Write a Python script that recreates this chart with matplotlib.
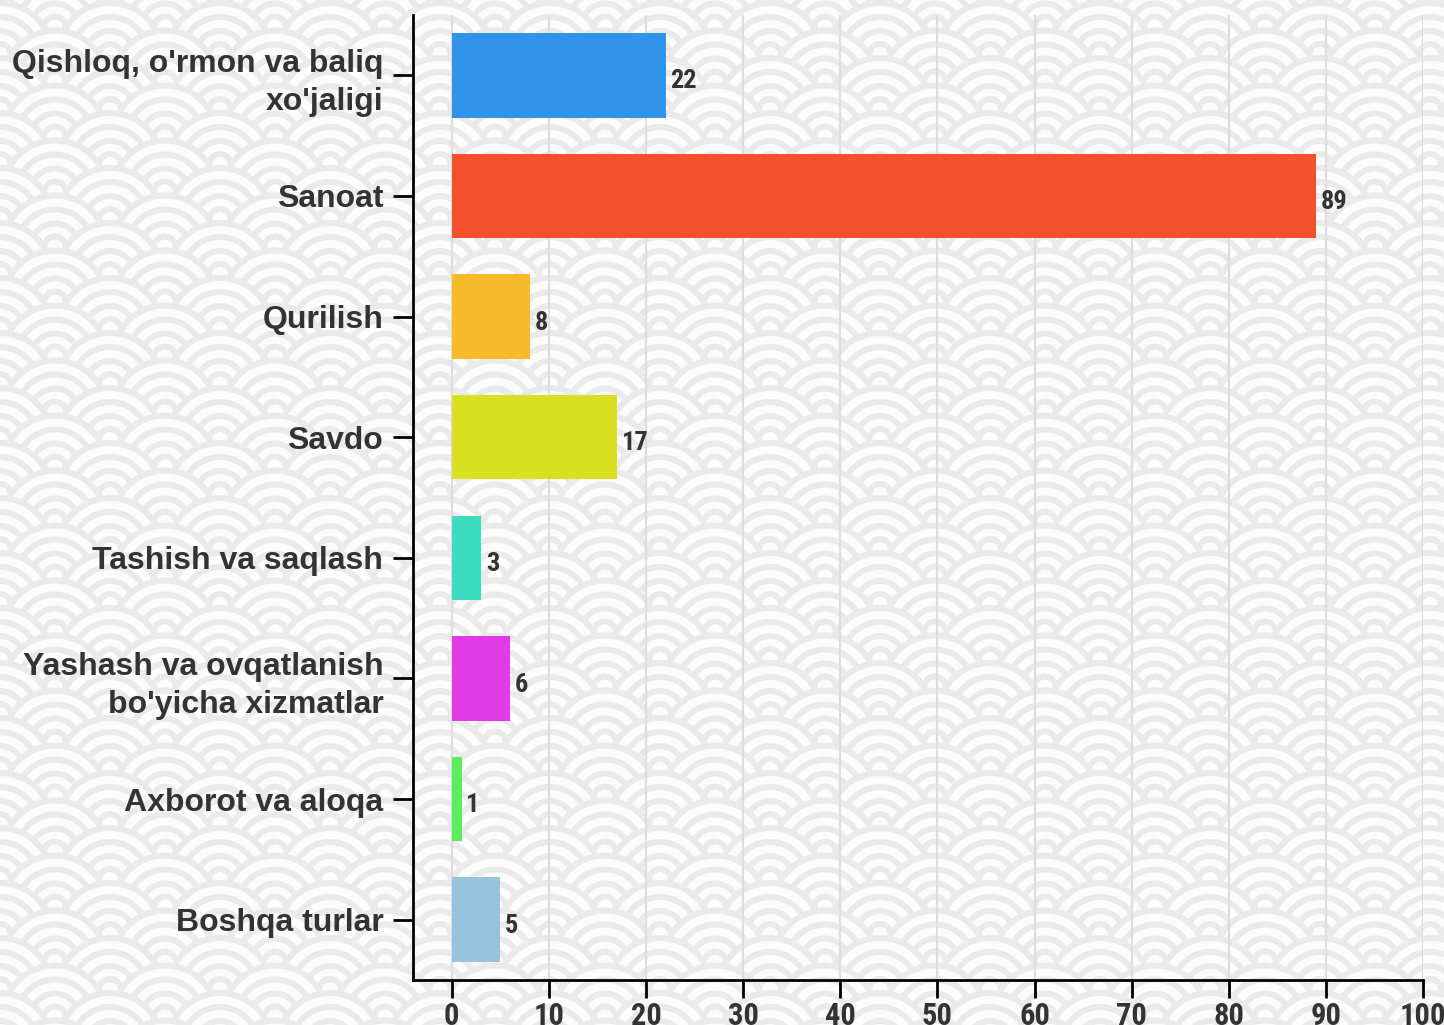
import matplotlib.pyplot as plt
from matplotlib.patches import Circle
from matplotlib.collections import PatchCollection

categories = ["Qishloq, o'rmon va baliq\nxo'jaligi", "Sanoat", "Qurilish", "Savdo",
              "Tashish va saqlash", "Yashash va ovqatlanish\nbo'yicha xizmatlar",
              "Axborot va aloqa", "Boshqa turlar"]
values = [22, 89, 8, 17, 3, 6, 1, 5]
colors = ["#3094ea", "#f5502e", "#f7ba2b", "#d8e021", "#3bdcc0", "#e23ae6", "#5bee5b", "#96c3de"]
x_ticks = list(range(0, 101, 10))

W, H = 1444, 1025
fig = plt.figure(figsize=(W / 100, H / 100), dpi=100)
cond = ["Roboto Condensed", "Open Sans Condensed", "IBM Plex Sans Condensed", "DejaVu Sans"]

# seigaiha background
bg = fig.add_axes([0, 0, 1, 1], zorder=-1)
bg.set_xlim(0, W)
bg.set_ylim(H, 0)
bg.axis("off")
R = 55
gray, white = "#eaeaea", "#fcfcfc"
rings = [(55, gray), (49, white), (41, gray), (35, white),
         (27, gray), (21, white), (14, gray), (8, white)]
patches = []
pcolors = []
row = 0
y = -R
while y < H + 2 * R:
    off = 0 if row % 2 == 0 else R
    x = -2 * R + off
    while x < W + 2 * R:
        for r, c in rings:
            patches.append(Circle((x, y), r))
            pcolors.append(c)
        x += 2 * R
    y += R / 2
    row += 1
bg.add_collection(PatchCollection(patches, facecolors=pcolors, edgecolors="none"))

ax = fig.add_axes([413 / W, 1 - 980 / H, (1423 - 413) / W, (980 - 15) / H])
ax.set_facecolor("none")
pos = list(range(len(values)))
ax.barh(pos, values, height=0.7, color=colors, zorder=3)
for p, v in zip(pos, values):
    ax.text(v + 0.5, p + 0.03, str(v), va="center_baseline", ha="left", fontsize=19,
            fontweight="bold", color="#333333", family=cond, zorder=4)

ax.set_xlim(-4, 100)
ax.set_ylim(len(values) - 0.5, -0.5)
ax.set_xticks(x_ticks)
ax.set_xticklabels([str(t) for t in x_ticks], fontsize=22, fontweight="bold",
                   color="#333333", family=cond)
ax.set_yticks(pos)
ax.set_yticklabels(categories, fontsize=23, fontweight="bold", color="#333333",
                   family="Liberation Sans", linespacing=1.35)
ax.tick_params(axis="x", length=13, width=2, pad=2, color="black")
ax.tick_params(axis="y", length=14.4, width=2, pad=7, color="black")
ax.grid(axis="x", color="#dddddd", linewidth=1.5, zorder=0)
ax.set_axisbelow(True)
for s in ["top", "right"]:
    ax.spines[s].set_visible(False)
for s in ["left", "bottom"]:
    ax.spines[s].set_linewidth(2)

fig.savefig("out.png", dpi=100)
